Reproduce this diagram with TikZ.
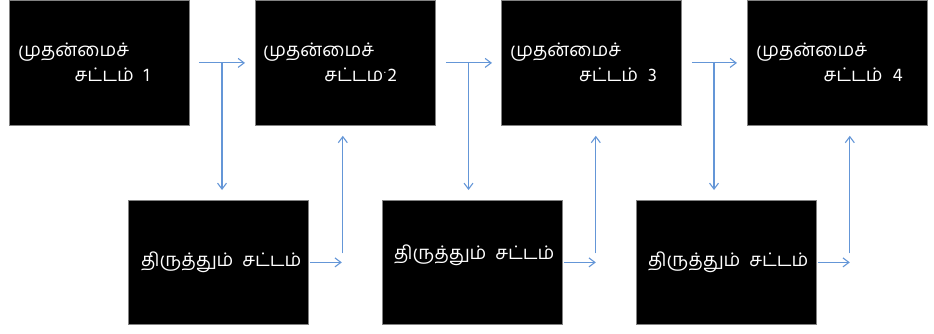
\documentclass[tikz,border=0pt]{standalone}
\usepackage{fontspec}
\newfontfamily\tamil[Script=Tamil]{Hind Madurai}
\usetikzlibrary{arrows.meta,calc}
\definecolor{arrblue}{RGB}{100,150,215}
\definecolor{boxline}{RGB}{130,130,130}
\tikzset{
  boxnode/.style={draw=boxline, line width=0.8pt, fill=black, minimum width=180pt, minimum height=125pt, anchor=north west, inner sep=0pt},
  txt/.style={text=white, font=\tamil\fontsize{18.7}{22}\selectfont, inner sep=0pt},
  arr/.style={draw=arrblue, line width=1.1pt, -{Straight Barb[length=6pt,width=9pt]}},
}
\begin{document}
\begin{tikzpicture}[x=1pt,y=-1pt]
\useasboundingbox (0,0) rectangle (934,334);
% top boxes
\node[boxnode] (b1) at (9,0) {};
\node[boxnode] (b2) at (255,0) {};
\node[boxnode] (b3) at (501,0) {};
\node[boxnode] (b4) at (747,0) {};
% bottom boxes
\node[boxnode, minimum height=124pt] (a1) at (128,200) {};
\node[boxnode, minimum height=124pt] (a2) at (382,200) {};
\node[boxnode, minimum height=124pt] (a3) at (636,200) {};
% texts top
\node[txt, anchor=west] (t1a) at (18,52) {முதன்மைச்};
\node[txt, anchor=east] (t1b) at (150,75) {சட்டம்\hspace{10pt}1};
\node[txt, anchor=west] (t2a) at (263,52) {முதன்மைச்};
\node[txt, anchor=east] (t2b) at (397,75) {சட்டம\raisebox{8pt}{\fontspec{DejaVu Sans}\fontsize{10}{10}\selectfont .}\hspace{1pt}2};
\node[txt, anchor=west] (t3a) at (510,52) {முதன்மைச்};
\node[txt, anchor=east] (t3b) at (657,75) {சட்டம்\hspace{10pt}3};
\node[txt, anchor=west] (t4a) at (756,52) {முதன்மைச்};
\node[txt, anchor=east] (t4b) at (903,75) {சட்டம்\hspace{10pt}4};
% texts bottom
\node[txt, anchor=west] (s1) at (141,262) {திருத்தும்\hspace{9pt}சட்டம்};
\node[txt, anchor=west] (s2) at (394,255) {திருத்தும்\hspace{9pt}சட்டம்};
\node[txt, anchor=west] (s3) at (648,262) {திருத்தும்\hspace{9pt}சட்டம்};
% top horizontal arrows
\draw[arr, shorten <=9pt, shorten >=10pt] (b1.east) -- (b2.west);
\draw[arr, shorten <=10pt, shorten >=9pt] (b2.east) -- (b3.west);
\draw[arr, shorten <=10pt, shorten >=10pt] (b3.east) -- (b4.west);
% branch points on the top arrows
\coordinate (m1) at (222,62.5);
\coordinate (m2) at (468.5,62.5);
\coordinate (m3) at (714,62.5);
\draw[arr, shorten >=10pt] (m1) -- (m1 |- a1.north);
\draw[arr, shorten >=10pt] (m2) -- (m2 |- a2.north);
\draw[arr, shorten >=10pt] (m3) -- (m3 |- a3.north);
% bottom horizontal arrows and up arrows
\coordinate (c1) at ($(a1.east)+(33,0)$);
\coordinate (c2) at ($(a2.east)+(33,0)$);
\coordinate (c3) at ($(a3.east)+(33,0)$);
\draw[arr, shorten <=1pt] (a1.east) -- (c1);
\draw[arr, shorten <=1pt] (a2.east) -- (c2);
\draw[arr, shorten <=1pt] (a3.east) -- (c3);
\coordinate (u1) at ($(c1)+(1,-9)$);
\coordinate (u2) at ($(c2)+(0,-9)$);
\coordinate (u3) at ($(c3)+(0,-9)$);
\draw[arr, shorten >=10pt] (u1) -- (u1 |- b2.south);
\draw[arr, shorten >=10pt] (u2) -- (u2 |- b3.south);
\draw[arr, shorten >=10pt] (u3) -- (u3 |- b4.south);
\end{tikzpicture}
\end{document}
